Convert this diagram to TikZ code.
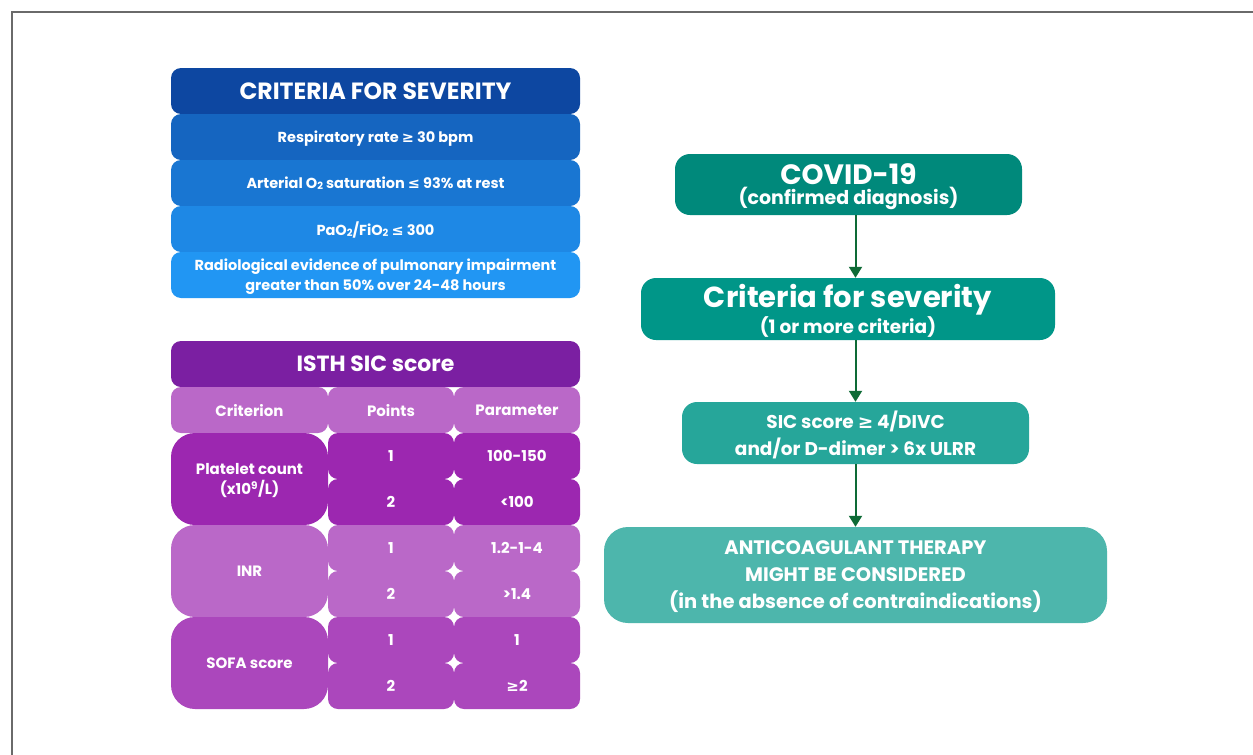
\documentclass[tikz,border=0pt]{standalone}
\usepackage{fontspec}
\setmainfont{Poppins}
\newfontfamily\symfont{DejaVu Sans}
\usetikzlibrary{arrows.meta}
\definecolor{blueA}{HTML}{0D47A1}
\definecolor{blueB}{HTML}{1565C0}
\definecolor{blueC}{HTML}{1976D2}
\definecolor{blueD}{HTML}{1E88E5}
\definecolor{blueE}{HTML}{2196F3}
\definecolor{purpA}{HTML}{7B1FA2}
\definecolor{purpB}{HTML}{BA68C8}
\definecolor{purpC}{HTML}{9C27B0}
\definecolor{purpD}{HTML}{AB47BC}
\definecolor{tealA}{HTML}{00897B}
\definecolor{tealB}{HTML}{009688}
\definecolor{tealC}{HTML}{26A69A}
\definecolor{tealD}{HTML}{4DB6AC}
\definecolor{arrowgreen}{HTML}{0E6B36}
\definecolor{framegray}{HTML}{6A6A6A}
\newcommand\symge{{\symfont ≥}}
\newcommand\symle{{\symfont ≤}}
\newcommand\lowtwo{\raisebox{-1pt}{\fontsize{10}{10}\selectfont 2}}
\tikzset{
  cell/.style={rounded corners=10pt, text=white, align=center, inner sep=0pt,
    text depth=0pt, font=\bfseries\fontsize{15}{20}\selectfont},
  bluerow/.style={cell, minimum width=409pt, minimum height=46pt,
    font=\bfseries\fontsize{14.5}{20}\selectfont},
  bigcell/.style={cell, rounded corners=24pt},
  flowbox/.style={cell, rounded corners=15pt},
  flowarrow/.style={draw=arrowgreen, line width=2pt, -{Triangle[width=13pt,length=11pt]}}
}

\begin{document}
\begin{tikzpicture}[x=1pt,y=-1pt]
\useasboundingbox (0,0) rectangle (1253,755);
\fill[white] (0,0) rectangle (1253,755);
\draw[framegray, line width=2pt] (1253,12) -- (12,12) -- (12,755);
\node[bluerow, fill=blueA, font=\bfseries\fontsize{23.5}{24}\selectfont] (sevhead) at (375.5,91) {CRITERIA FOR SEVERITY};
\node[bluerow, fill=blueB] (resp) at (375.5,137) {Respiratory rate \symge{} 30 bpm};
\node[bluerow, fill=blueC] (sat) at (375.5,183) {Arterial O\lowtwo{} saturation \symle{} 93\% at rest};
\node[bluerow, fill=blueD] (pafi) at (375.5,229) {PaO\lowtwo/FiO\lowtwo{} \symle{} 300};
\node[bluerow, fill=blueE] (radio) at (375.5,275) {Radiological evidence of pulmonary impairment\\greater than 50\% over 24-48 hours};
\node[cell, fill=purpA, minimum width=409pt, minimum height=46pt, font=\bfseries\fontsize{22}{24}\selectfont] (sichead) at (375.5,364) {ISTH SIC score};
\node[cell, fill=purpB, minimum width=157pt, minimum height=46pt] (crit) at (249.5,410) {Criterion};
\node[cell, fill=purpB, minimum width=126pt, minimum height=46pt] (pts) at (391,410) {Points};
\node[cell, fill=purpB, minimum width=126pt, minimum height=46pt] (param) at (517,410) {Parameter};
\node[bigcell, fill=purpC, minimum width=157pt, minimum height=92pt] (plt) at (249.5,479) {Platelet count\\(x10\textsuperscript{9}/L)};
\node[cell, fill=purpC, minimum width=126pt, minimum height=46pt] (pltA) at (391,456) {1};
\node[cell, fill=purpC, minimum width=126pt, minimum height=46pt] (pltB) at (391,502) {2};
\node[cell, fill=purpC, minimum width=126pt, minimum height=46pt] (pltC) at (517,456) {100-150};
\node[cell, fill=purpC, minimum width=126pt, minimum height=46pt] (pltD) at (517,502) {<100};
\node[bigcell, fill=purpB, minimum width=157pt, minimum height=92pt] (inr) at (249.5,571) {INR};
\node[cell, fill=purpB, minimum width=126pt, minimum height=46pt] (inrA) at (391,548) {1};
\node[cell, fill=purpB, minimum width=126pt, minimum height=46pt] (inrB) at (391,594) {2};
\node[cell, fill=purpB, minimum width=126pt, minimum height=46pt] (inrC) at (517,548) {1.2-1-4};
\node[cell, fill=purpB, minimum width=126pt, minimum height=46pt] (inrD) at (517,594) {>1.4};
\node[bigcell, fill=purpD, minimum width=157pt, minimum height=92pt] (sofa) at (249.5,663) {SOFA score};
\node[cell, fill=purpD, minimum width=126pt, minimum height=46pt] (sofaA) at (391,640) {1};
\node[cell, fill=purpD, minimum width=126pt, minimum height=46pt] (sofaB) at (391,686) {2};
\node[cell, fill=purpD, minimum width=126pt, minimum height=46pt] (sofaC) at (517,640) {1};
\node[cell, fill=purpD, minimum width=126pt, minimum height=46pt] (sofaD) at (517,686) {\symge2};
\node[flowbox, fill=tealA, minimum width=347pt, minimum height=61pt] (covid) at (848.5,184.5) {{\fontsize{28}{24}\selectfont COVID-19}\\{\fontsize{19}{20}\selectfont (confirmed diagnosis)}};
\node[flowbox, fill=tealB, minimum width=414pt, minimum height=62pt] (severe) at (848,309) {{\fontsize{29}{24}\selectfont Criteria for severity}\\{\fontsize{18.5}{20}\selectfont (1 or more criteria)}};
\node[flowbox, fill=tealC, minimum width=347pt, minimum height=62pt, font=\bfseries\fontsize{18.5}{27}\selectfont] (sic) at (855.5,433) {SIC score \symge{} 4/DIVC\\and/or D-dimer > 6x ULRR};
\node[flowbox, fill=tealD, rounded corners=24pt, minimum width=503pt, minimum height=96pt, font=\bfseries\fontsize{19.5}{27}\selectfont] (therapy) at (855.5,575) {ANTICOAGULANT THERAPY\\MIGHT BE CONSIDERED\\(in the absence of contraindications)};
\draw[flowarrow] (covid.south -| sic.south) -- (severe.north -| sic.north);
\draw[flowarrow] (severe.south -| sic.south) -- (sic.north);
\draw[flowarrow] (sic.south) -- (therapy.north);
\end{tikzpicture}
\end{document}
